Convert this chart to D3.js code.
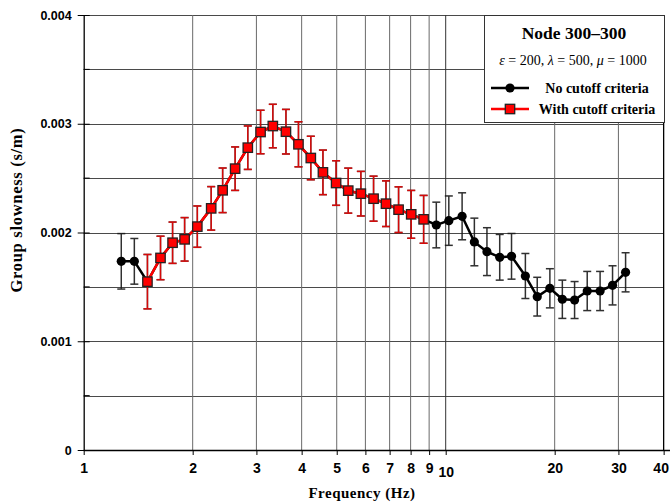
<!DOCTYPE html>
<html>
<head>
<meta charset="utf-8">
<script src="https://cdn.jsdelivr.net/npm/d3@7"></script>
<style>
  body { margin: 0; background: #fff; }
  svg { display: block; font-family: "Liberation Serif", "DejaVu Serif", serif; }
</style>
</head>
<body>
<div id="chart"></div>
<script>
// Data
const freq = [1.27, 1.38, 1.50, 1.63, 1.76, 1.90, 2.06, 2.25, 2.42, 2.62, 2.84, 3.08, 3.33, 3.62,
  3.92, 4.24, 4.58, 4.98, 5.38, 5.83, 6.32, 6.84, 7.41, 8.03, 8.69, 9.42, 10.2, 11.1, 12.0, 13.0,
  14.1, 15.2, 16.6, 17.9, 19.4, 21.0, 22.7, 24.6, 26.7, 28.9, 31.4];
const slowness = [0.001735, 0.001735, 0.001548, 0.001766, 0.001906, 0.001937, 0.002054, 0.002222,
  0.002388, 0.002587, 0.002780, 0.002924, 0.002979, 0.002927, 0.002811, 0.002685, 0.002553,
  0.002455, 0.002385, 0.002357, 0.002311, 0.002265, 0.002210, 0.002167, 0.002121, 0.002069,
  0.002109, 0.002149, 0.001913, 0.001824, 0.001772, 0.001781, 0.001600, 0.001410, 0.001487,
  0.001386, 0.001379, 0.001462, 0.001462, 0.001514, 0.001634];
const errs = [0.000255, 0.000210, 0.000250, 0.000200, 0.000190, 0.000200, 0.000190, 0.000200,
  0.000205, 0.000200, 0.000200, 0.000200, 0.000200, 0.000205, 0.000207, 0.000200, 0.000205,
  0.000205, 0.000207, 0.000205, 0.000207, 0.000210, 0.000210, 0.000220, 0.000220, 0.000210,
  0.000227, 0.000216, 0.000219, 0.000220, 0.000210, 0.000210, 0.000207, 0.000178, 0.000180,
  0.000176, 0.000170, 0.000180, 0.000180, 0.000180, 0.000180];
// points kept by the cutoff criteria (index range, end exclusive)
const cutoffRange = [2, 25];

const xTicks = [1, 2, 3, 4, 5, 6, 7, 8, 9, 10, 20, 30, 40];
const yTicks = [0, 0.001, 0.002, 0.003, 0.004];
const yGrid = [0.0005, 0.001, 0.0015, 0.002, 0.0025, 0.003, 0.0035, 0.004];

const seriesNames = ["No cutoff criteria", "With cutoff criteria"];
const legendTitle = "Node 300\u2013300";

// Dimensions
const W = 670, H = 503;
const plotLeft = 83.7, plotTop = 15, plotBottom = 450;

const svg = d3.select("#chart").append("svg")
  .attr("width", W).attr("height", H);

const x = d3.scaleLog().domain([1, 40]).range([plotLeft, plotLeft + 362 * Math.log10(40)]);
const y = d3.scaleLinear().domain([0, 0.004]).range([plotBottom, plotTop]);
const plotRight = x(40);

// Grid
svg.append("g").selectAll("line").data(yGrid).join("line")
  .attr("x1", plotLeft).attr("x2", plotRight)
  .attr("y1", d => Math.round(y(d)) + 0.5).attr("y2", d => Math.round(y(d)) + 0.5)
  .attr("stroke", "#4a4a4a").attr("stroke-width", 1);

svg.append("g").selectAll("line").data(xTicks.slice(1, -1)).join("line")
  .attr("x1", d => x(d)).attr("x2", d => x(d))
  .attr("y1", plotTop).attr("y2", plotBottom)
  .attr("stroke", d => d === 10 ? "#333" : "#6a6a6a").attr("stroke-width", 1);

// right border
svg.append("line")
  .attr("x1", plotRight).attr("x2", plotRight).attr("y1", plotTop).attr("y2", plotBottom)
  .attr("stroke", "#000").attr("stroke-width", 1.3);

// X axis
const xAxis = svg.append("g").attr("transform", `translate(0,${plotBottom})`)
  .call(d3.axisBottom(x).tickValues(xTicks).tickFormat(d3.format("d")).tickSize(5).tickPadding(8));
xAxis.select(".domain").attr("d", `M${plotLeft},0.5H${W}`).attr("stroke-width", 1.3);
xAxis.selectAll("text").attr("font-size", 14).attr("font-weight", "bold").attr("fill", "#000")
  .attr("dx", d => d === 40 ? -3 : 0)
  .attr("dy", d => d === 10 ? "1.0em" : "0.71em");

// Y axis
const yAxis = svg.append("g").attr("transform", `translate(${plotLeft},0)`)
  .call(d3.axisLeft(y).tickValues(yTicks).tickFormat(d => d === 0 ? "0" : d3.format(".3f")(d))
    .tickSize(6).tickPadding(6));
yAxis.select(".domain").attr("d", `M0.5,${plotTop}V${plotBottom}`).attr("stroke-width", 1.3);
yAxis.selectAll("text").attr("font-size", 12.5).attr("font-weight", "bold").attr("fill", "#000");
yAxis.selectAll(".tick line").attr("x2", 6).attr("x1", -6);
yAxis.append("g").selectAll("line").data(yGrid.filter((d, i) => i % 2 === 0)).join("line")
  .attr("x1", 0).attr("x2", 6)
  .attr("y1", d => y(d)).attr("y2", d => y(d))
  .attr("stroke", "#000");

// Axis titles
svg.append("text")
  .attr("x", 362).attr("y", 498)
  .attr("text-anchor", "middle").attr("font-size", 15).attr("font-weight", "bold")
  .attr("letter-spacing", 0.5)
  .text("Frequency (Hz)");
svg.append("text")
  .attr("transform", "translate(22,210) rotate(-90)")
  .attr("text-anchor", "middle").attr("font-size", 16.5).attr("font-weight", "bold")
  .attr("letter-spacing", 0.7)
  .text("Group slowness (s/m)");

// Series data
const allPts = freq.map((f, i) => ({ f, v: slowness[i], e: errs[i] }));
const cutPts = allPts.slice(cutoffRange[0], cutoffRange[1]);

const line = d3.line().x(d => x(d.f)).y(d => y(d.v));

function errorBars(g, data, color, opacity) {
  const eb = g.append("g").attr("stroke", color).attr("stroke-width", 1.5).attr("opacity", opacity);
  eb.selectAll(".v").data(data).join("line")
    .attr("x1", d => x(d.f)).attr("x2", d => x(d.f))
    .attr("y1", d => y(d.v + d.e)).attr("y2", d => y(d.v - d.e));
  eb.selectAll(".t").data(data).join("line")
    .attr("x1", d => x(d.f) - 4).attr("x2", d => x(d.f) + 4)
    .attr("y1", d => y(d.v + d.e)).attr("y2", d => y(d.v + d.e));
  eb.selectAll(".b").data(data).join("line")
    .attr("x1", d => x(d.f) - 4).attr("x2", d => x(d.f) + 4)
    .attr("y1", d => y(d.v - d.e)).attr("y2", d => y(d.v - d.e));
}

// No cutoff (black)
const gBlack = svg.append("g");
errorBars(gBlack, allPts, "#1a1a1a", 0.9);
gBlack.append("path").datum(allPts).attr("d", line)
  .attr("fill", "none").attr("stroke", "#000").attr("stroke-width", 2.5);
gBlack.selectAll("circle").data(allPts).join("circle")
  .attr("cx", d => x(d.f)).attr("cy", d => y(d.v)).attr("r", 4.6).attr("fill", "#000");

// With cutoff (red)
const gRed = svg.append("g");
errorBars(gRed, cutPts, "#ff0000", 0.8);
gRed.append("path").datum(cutPts).attr("d", line)
  .attr("fill", "none").attr("stroke", "#ff0000").attr("stroke-width", 2.5);
gRed.selectAll("rect").data(cutPts).join("rect")
  .attr("x", d => x(d.f) - 4.7).attr("y", d => y(d.v) - 4.7)
  .attr("width", 9.4).attr("height", 9.4)
  .attr("fill", "#ff0000").attr("stroke", "#222").attr("stroke-width", 1.3);

// Legend
const lg = svg.append("g");
lg.append("rect").attr("x", 484.5).attr("y", 15.5).attr("width", 180).attr("height", 107)
  .attr("fill", "#fff").attr("stroke", "#333").attr("stroke-width", 1);
lg.append("text").attr("x", 574).attr("y", 39).attr("text-anchor", "middle")
  .attr("font-size", 17.5).attr("font-weight", "bold").text(legendTitle);
const sub = lg.append("text").attr("x", 573).attr("y", 65).attr("text-anchor", "middle")
  .attr("font-size", 14);
[["\u03b5", true], [" = 200, ", false], ["\u03bb", true], [" = 500, ", false], ["\u03bc", true], [" = 1000", false]]
  .forEach(([t, it]) => sub.append("tspan").attr("font-style", it ? "italic" : "normal").text(t));

const legendRows = [
  { name: seriesNames[0], y: 88, color: "#000", shape: "circle" },
  { name: seriesNames[1], y: 109, color: "#ff0000", shape: "square" }
];
legendRows.forEach(r => {
  lg.append("line").attr("x1", 491).attr("x2", 529).attr("y1", r.y).attr("y2", r.y)
    .attr("stroke", r.color).attr("stroke-width", 2.5);
  if (r.shape === "circle") {
    lg.append("circle").attr("cx", 510).attr("cy", r.y).attr("r", 4.6).attr("fill", "#000");
  } else {
    lg.append("rect").attr("x", 510 - 4.7).attr("y", r.y - 4.7).attr("width", 9.4).attr("height", 9.4)
      .attr("fill", "#ff0000").attr("stroke", "#222").attr("stroke-width", 1.3);
  }
  lg.append("text").attr("x", 597).attr("y", r.y).attr("dy", "0.35em").attr("text-anchor", "middle")
    .attr("font-size", 14).attr("font-weight", "bold").text(r.name);
});
</script>
</body>
</html>
